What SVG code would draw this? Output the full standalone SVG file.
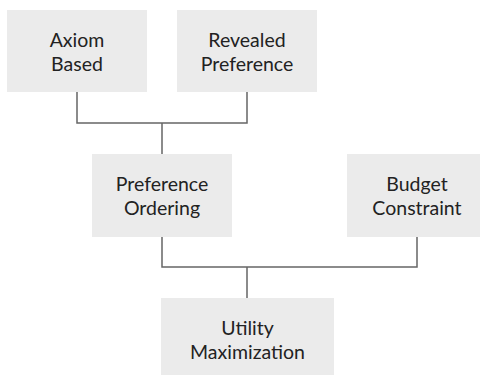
<svg xmlns="http://www.w3.org/2000/svg" width="480" height="375" viewBox="0 0 480 375">
<style>
.box{fill:#ebebeb;}
.lbl{font-family:Lato,"Open Sans",sans-serif;font-size:19.5px;fill:#222;text-anchor:middle;}
.conn{fill:none;stroke:#666;stroke-width:1.5;}
</style>
<rect width="480" height="375" fill="#fff"/>
<g id="connectors">
<path class="conn" d="M77,92V123H247V92M162,123V154"/>
<path class="conn" d="M162,237V267H417V237M247,267V298"/>
</g>
<g id="axiom"><rect class="box" x="7" y="10" width="140" height="82"/><text class="lbl" x="77" y="46.7">Axiom</text><text class="lbl" x="77" y="71">Based</text></g>
<g id="revealed"><rect class="box" x="177" y="10" width="140" height="82"/><text class="lbl" x="247" y="46.7">Revealed</text><text class="lbl" x="247" y="71">Preference</text></g>
<g id="ordering"><rect class="box" x="92" y="154" width="140" height="83"/><text class="lbl" x="162" y="190.5">Preference</text><text class="lbl" x="162" y="214.5">Ordering</text></g>
<g id="budget"><rect class="box" x="347" y="154" width="140" height="83"/><text class="lbl" x="417" y="190.5">Budget</text><text class="lbl" x="417" y="214.5">Constraint</text></g>
<g id="utility"><rect class="box" x="161" y="298" width="173" height="83"/><text class="lbl" x="247.5" y="335">Utility</text><text class="lbl" x="247.5" y="358.5">Maximization</text></g>
</svg>
